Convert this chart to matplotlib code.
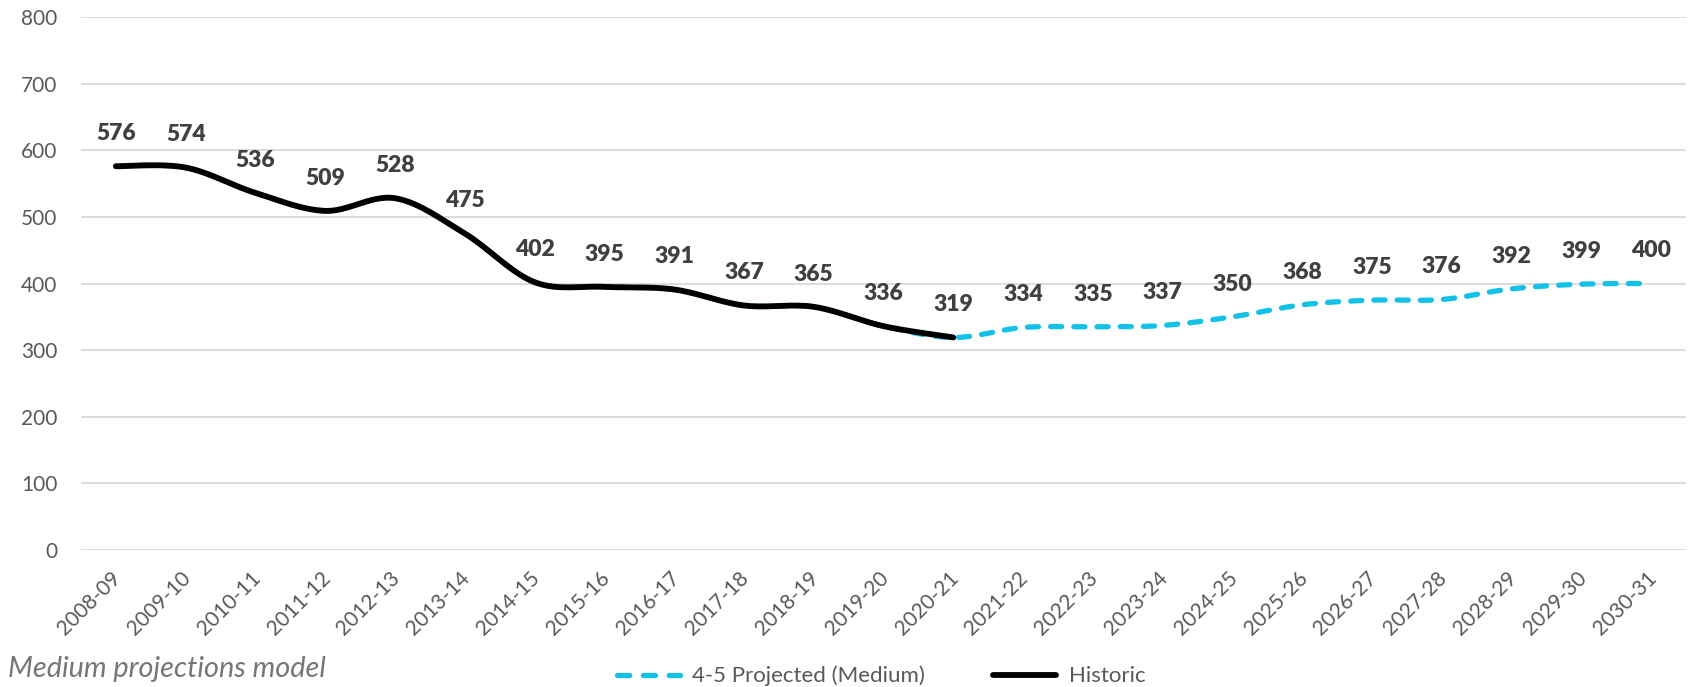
import numpy as np
import matplotlib
matplotlib.use("Agg")
import matplotlib.pyplot as plt
from matplotlib.lines import Line2D
import matplotlib.transforms as mtransforms

plt.rcParams['font.family'] = ['Lato', 'DejaVu Sans']

categories = ["2008-09", "2009-10", "2010-11", "2011-12", "2012-13", "2013-14",
              "2014-15", "2015-16", "2016-17", "2017-18", "2018-19", "2019-20",
              "2020-21", "2021-22", "2022-23", "2023-24", "2024-25", "2025-26",
              "2026-27", "2027-28", "2028-29", "2029-30", "2030-31"]
historic = [576, 574, 536, 509, 528, 475, 402, 395, 391, 367, 365, 336, 319]
projected_future = [334, 335, 337, 350, 368, 375, 376, 392, 399, 400]
projected = historic + projected_future  # projection series starts from history
yticks = [0, 100, 200, 300, 400, 500, 600, 700, 800]

BLUE = '#14C1E6'
LABEL_C = '#404040'
TICK_C = '#595959'
GRID_C = '#D9D9D9'


def smooth(xs, ys, n=30):
    """Excel-like smoothed line (Catmull-Rom via cubic Bezier)."""
    P = np.column_stack([xs, ys]).astype(float)
    out = [P[0]]
    m = len(P)
    for i in range(m - 1):
        p0 = P[i - 1] if i > 0 else P[i]
        p1 = P[i]
        p2 = P[i + 1]
        p3 = P[i + 2] if i + 2 < m else P[i + 1]
        b1 = p1 + (p2 - p0) / 6.0
        b2 = p2 - (p3 - p1) / 6.0
        t = np.linspace(0, 1, n + 1)[1:, None]
        seg = ((1 - t) ** 3) * p1 + 3 * ((1 - t) ** 2) * t * b1 + 3 * (1 - t) * t ** 2 * b2 + t ** 3 * p2
        out.extend(seg)
    out = np.array(out)
    return out[:, 0], out[:, 1]


W, H = 1690, 687
fig = plt.figure(figsize=(W / 100, H / 100), dpi=100)
left, right, top, bottom = 81, 1686, 17, 550
ax = fig.add_axes([left / W, 1 - bottom / H, (right - left) / W, (bottom - top) / H])

x_all = np.arange(len(categories))
xh = x_all[:len(historic)]

# projected (dashed, blue) underneath
sx, sy = smooth(x_all, projected)
ax.plot(sx, sy, color=BLUE, lw=3.8, dashes=(2.1, 2.3), dash_capstyle='round',
        solid_capstyle='round', zorder=3)
# historic (solid, black) on top
hx, hy = smooth(xh, historic)
ax.plot(hx, hy, color='black', lw=4.2, solid_capstyle='round', zorder=4)

# data labels
labels_vals = historic + projected_future
for i, v in enumerate(labels_vals):
    ax.annotate(f"{v}", (i, v), xytext=(0, 23.5), textcoords='offset points',
                ha='center', va='center', fontsize=16.5, fontweight='heavy',
                color=LABEL_C, zorder=5)

ax.set_xlim(-0.5, len(categories) - 0.5)
ax.set_ylim(0, 800)
ax.set_yticks(yticks)
ax.yaxis.grid(True, color=GRID_C, lw=1.3)
ax.set_axisbelow(True)
for s in ax.spines.values():
    s.set_visible(False)
ax.tick_params(axis='y', length=0, pad=17, labelsize=15, labelcolor=TICK_C)
ax.tick_params(axis='x', length=0, pad=8, labelsize=15, labelcolor=TICK_C)

ax.set_xticks(x_all)
ax.set_xticklabels(categories, rotation=45, ha='right', va='center',
                   rotation_mode='anchor')
offset = mtransforms.ScaledTranslation(2 / 100, -14 / 100, fig.dpi_scale_trans)
for lbl in ax.get_xticklabels():
    lbl.set_transform(lbl.get_transform() + offset)

# legend
handles = [Line2D([], [], color=BLUE, lw=3.8, dashes=(2.3, 2.6), dash_capstyle='round'),
           Line2D([], [], color='black', lw=4.2, solid_capstyle='round')]
fig.legend(handles, ["4-5 Projected (Medium)", "Historic"], loc='center',
           bbox_to_anchor=(881 / W, 1 - 676 / H), ncol=2, frameon=False,
           fontsize=16, labelcolor=TICK_C, handlelength=2.85, handletextpad=0.55,
           columnspacing=3.05)

fig.text(8 / W, 1 - 669 / H, "Medium projections model", style='italic',
         fontsize=20.8, color='#767676', ha='left', va='center')

fig.savefig("out.png", dpi=100)
